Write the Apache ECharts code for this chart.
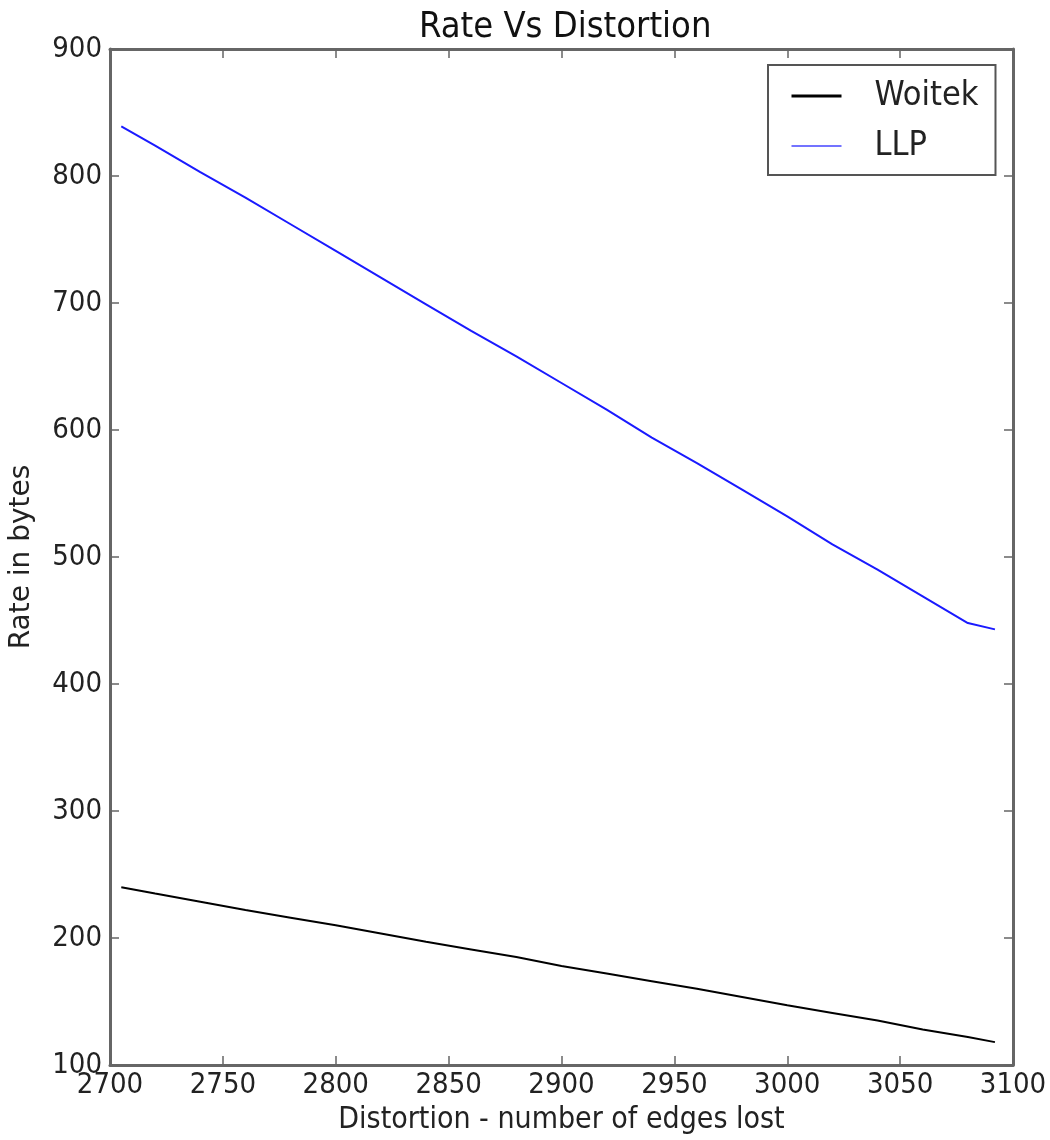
<!DOCTYPE html>
<html>
<head>
<meta charset="utf-8">
<script src="https://cdn.jsdelivr.net/npm/echarts@6/dist/echarts.min.js"></script>
<style>html,body{margin:0;padding:0;background:#fff}#c{width:1050px;height:1140px}</style>
</head>
<body>
<div id="c"></div>
<script>
const distortion = [2705, 2720, 2740, 2760, 2780, 2800, 2820, 2840, 2860, 2880, 2900, 2920, 2940, 2960, 2980, 3000, 3020, 3040, 3060, 3080, 3092];
const woitek = [240, 235, 228.5, 222, 216, 210, 203.5, 197, 191, 185, 178, 172, 166, 160, 153.5, 147, 141, 135, 128, 122, 118];
const llp = [839, 824, 803, 783, 762, 741, 720, 699, 678, 658, 637, 616, 594, 574, 553, 532, 510, 490, 469, 448, 443];
const seriesNames = ['Woitek', 'LLP'];
const xMin = 2700, xMax = 3100, xStep = 50;
const yMin = 100, yMax = 900, yStep = 100;

const FONT = '"DejaVu Sans Condensed", "DejaVu Sans", sans-serif';
const FONT_N = '"DejaVu Sans", sans-serif';
const axisLine = {show: true, onZero: false, lineStyle: {color: '#666', width: 3}};
const tick = {show: true, inside: true, length: 9, lineStyle: {color: '#666', width: 1.5}};
const hidden = {color: 'rgba(0,0,0,0)', borderWidth: 0, opacity: 0};

const chart = echarts.init(document.getElementById('c'), null, {renderer: 'canvas'});
chart.setOption({
  animation: false,
  backgroundColor: '#fff',
  title: {
    text: 'Rate Vs Distortion', left: 414, top: 5,
    textStyle: {fontFamily: FONT, fontSize: 36, fontWeight: 'normal', color: '#111'}
  },
  grid: {left: 108, top: 49, right: 37, bottom: 70, containLabel: false},
  legend: {
    orient: 'vertical', left: 768, top: 65,
    backgroundColor: '#fff', borderColor: '#555', borderWidth: 2, borderRadius: 0,
    padding: [14, 17, 12, 22], itemGap: 16, itemWidth: 50, itemHeight: 26,
    textStyle: {fontFamily: FONT, fontSize: 34, color: '#222', padding: [0, 0, 0, 28]},
    data: [
      {name: seriesNames[0], lineStyle: {width: 3, color: '#000'}, itemStyle: hidden},
      {name: seriesNames[1], lineStyle: {width: 1.5, color: '#4444ff'}, itemStyle: hidden}
    ]
  },
  xAxis: [
    {type: 'value', min: xMin, max: xMax, interval: xStep, position: 'bottom',
     name: 'Distortion - number of edges lost', nameLocation: 'middle', nameGap: 40,
     nameTextStyle: {fontFamily: FONT, fontSize: 30, color: '#222'},
     axisLine, axisTick: tick, splitLine: {show: false},
     axisLabel: {fontFamily: FONT, fontSize: 29, color: '#222', margin: 6, formatter: v => String(v)}},
    {type: 'value', min: xMin, max: xMax, interval: xStep, position: 'top',
     axisLine, axisTick: tick, splitLine: {show: false}, axisLabel: {show: false}}
  ],
  yAxis: [
    {type: 'value', min: yMin, max: yMax, interval: yStep, position: 'left',
     name: 'Rate in bytes', nameLocation: 'middle', nameGap: 74,
     nameTextStyle: {fontFamily: FONT_N, fontSize: 28, color: '#222'},
     axisLine, axisTick: tick, splitLine: {show: false},
     axisLabel: {fontFamily: FONT, fontSize: 29, color: '#222', margin: 8, formatter: v => String(v)}},
    {type: 'value', min: yMin, max: yMax, interval: yStep, position: 'right',
     axisLine, axisTick: tick, splitLine: {show: false}, axisLabel: {show: false}}
  ],
  series: [
    {name: seriesNames[0], type: 'line', symbol: 'none', xAxisIndex: 0, yAxisIndex: 0,
     data: distortion.map((x, i) => [x, woitek[i]]),
     lineStyle: {color: '#000', width: 2}, itemStyle: {color: '#000'}},
    {name: seriesNames[1], type: 'line', symbol: 'none', xAxisIndex: 0, yAxisIndex: 0,
     data: distortion.map((x, i) => [x, llp[i]]),
     lineStyle: {color: '#1a1aff', width: 2}, itemStyle: {color: '#1a1aff'}}
  ]
});
</script>
</body>
</html>
